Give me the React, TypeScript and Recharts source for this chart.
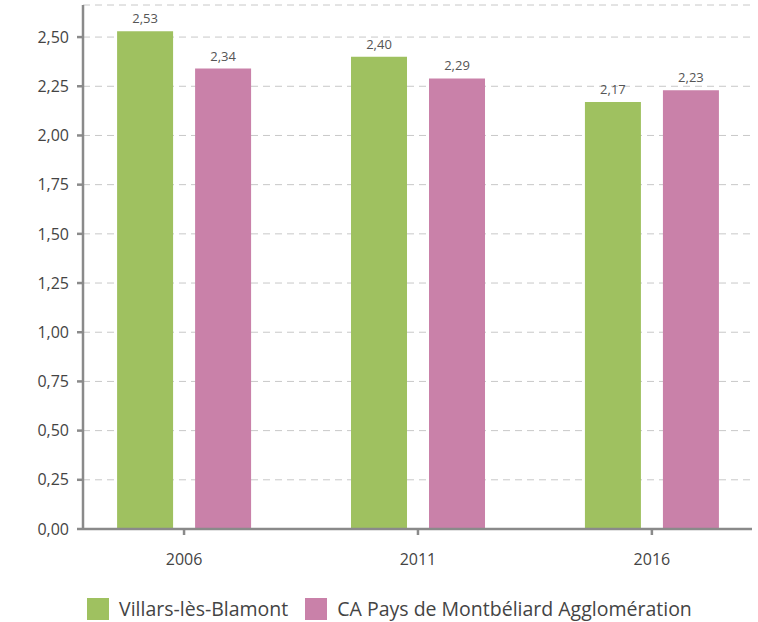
import React from 'react';
import {
  BarChart,
  Bar,
  XAxis,
  YAxis,
  CartesianGrid,
  Legend,
  LabelList,
} from 'recharts';

const years = [2006, 2011, 2016];
const villars = [2.53, 2.4, 2.17];
const montbeliard = [2.34, 2.29, 2.23];
const yTicks = [0, 0.25, 0.5, 0.75, 1, 1.25, 1.5, 1.75, 2, 2.25, 2.5];

const SERIES = [
  { key: 'villars', name: 'Villars-lès-Blamont', color: '#9fc160' },
  { key: 'montbeliard', name: 'CA Pays de Montbéliard Agglomération', color: '#c981a9' },
];

const data = years.map((year, i) => ({
  year,
  villars: villars[i],
  montbeliard: montbeliard[i],
}));

const fmt = (v: number) => v.toFixed(2).replace('.', ',');

const FONT = '"Open Sans", sans-serif';
const AXIS = '#8a8a8a';

const LegendBox = () => (
  <div
    style={{
      display: 'flex',
      justifyContent: 'flex-start',
      paddingLeft: 87,
      fontFamily: FONT,
      fontSize: 19.5,
      lineHeight: '26px',
      color: '#444',
    }}
  >
    {SERIES.map((s) => (
      <div key={s.key} style={{ display: 'flex', alignItems: 'center', marginRight: 17 }}>
        <span
          style={{
            display: 'inline-block',
            width: 22,
            height: 22,
            background: s.color,
            marginRight: 10,
          }}
        />
        <span>{s.name}</span>
      </div>
    ))}
  </div>
);

const App: React.FC = () => {
  return (
    <div style={{ position: 'absolute', top: 0, left: 0, width: 758, height: 622, background: '#fff' }}>
      <BarChart
        width={758}
        height={622}
        data={data}
        margin={{ top: 5, right: 6, left: 0, bottom: 0 }}
        barGap={22}
      >
        <CartesianGrid vertical={false} stroke="#c8c8c8" strokeDasharray="7 5" />
        <XAxis
          dataKey="year"
          type="number"
          domain={[2003.84, 2018.14]}
          ticks={years}
          allowDataOverflow
          height={67}
          stroke={AXIS}
          strokeWidth={2.5}
          tickSize={6}
          tickMargin={19}
          tick={{ fill: '#444', fontSize: 16, fontFamily: FONT }}
        />
        <YAxis
          width={83}
          domain={[0, 2.663]}
          ticks={yTicks}
          allowDataOverflow
          tickFormatter={fmt}
          stroke={AXIS}
          strokeWidth={2.5}
          tickSize={6}
          tickMargin={8}
          tick={{ fill: '#444', fontSize: 16, fontFamily: FONT }}
        />
        <Legend verticalAlign="bottom" height={26} content={<LegendBox />} />
        {SERIES.map((s) => (
          <Bar
            key={s.key}
            dataKey={s.key}
            name={s.name}
            fill={s.color}
            barSize={56}
            isAnimationActive={false}
          >
            <LabelList
              dataKey={s.key}
              position="top"
              offset={8}
              formatter={(v: any) => fmt(Number(v))}
              style={{ fill: '#555', fontSize: 13, fontFamily: FONT }}
            />
          </Bar>
        ))}
      </BarChart>
    </div>
  );
};

export default App;
